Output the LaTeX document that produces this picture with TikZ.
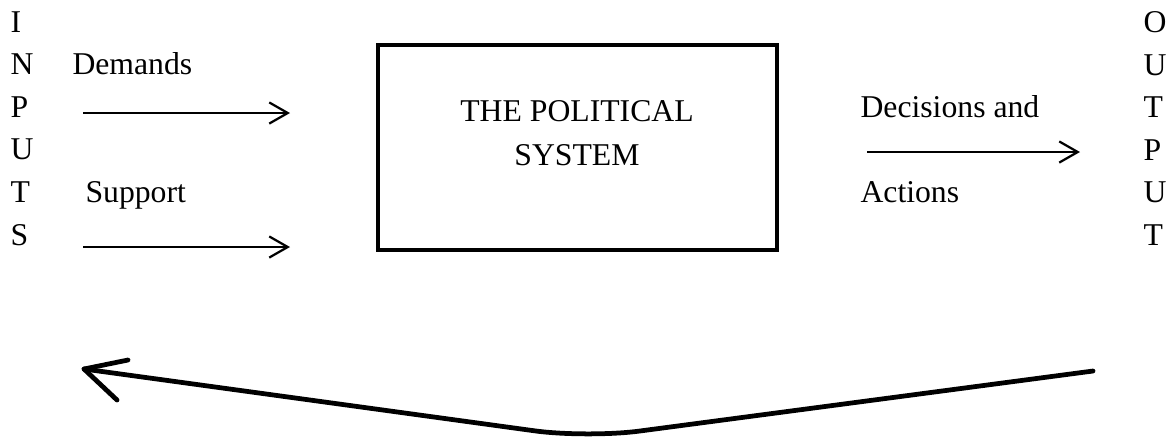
\documentclass[tikz,border=0pt]{standalone}
\usepackage{fontspec}
\setmainfont{Liberation Serif}
\usepackage{tikz}
\usetikzlibrary{arrows.meta, positioning}

\begin{document}
\begin{tikzpicture}[x=0.3785pt, y=-0.3785pt,
    every node/.style={inner sep=0pt, font=\fontsize{12}{14}\selectfont},
    lbl/.style={anchor=base west},
    flow/.style={line width=0.85pt, -{Straight Barb[length=7pt,width=8pt]}},
    feedback/.style={line width=1.8pt, line cap=round, line join=round}]
  \useasboundingbox (0,0) rectangle (1171,440);
  \foreach \ch [count=\i from 0] in {I,N,P,U,T,S}
    \node[lbl] (in\i) at (10, 32+42.6*\i) {\ch};
  \foreach \ch [count=\i from 0] in {O,U,T,P,U,T}
    \node[lbl] (out\i) at (1143, 32.5+42.6*\i) {\ch};
  \node[lbl] (demands) at (72,74) {Demands};
  \node[lbl] (support) at (85,202) {Support};
  \node[draw, line width=1.75pt, minimum width=151pt, minimum height=77.6pt] (system) at (577.5,147.5) {};
  \node[anchor=base] (sysA) at (577,121) {THE POLITICAL};
  \node[anchor=base] (sysB) at (577,165) {SYSTEM};
  \node[lbl] (decisions) at (860,117) {Decisions and};
  \node[lbl] (actions) at (860,202) {Actions};
  \coordinate (dS) at (83,113);   \coordinate (dE) at (290,113);
  \coordinate (sS) at (83,247);   \coordinate (sE) at (290,247);
  \coordinate (oS) at (867,152);  \coordinate (oE) at (1080,152);
  \draw[flow] (dS) -- (dE);
  \draw[flow] (sS) -- (sE);
  \draw[flow] (oS) -- (oE);
  % feedback loop
  \coordinate (fbR) at (1093,371);
  \coordinate (fbM) at (587,438);
  \coordinate (fbL) at (84,369);
  \coordinate (barbU) at (128,360);
  \coordinate (barbD) at (117,400);
  \draw[feedback, rounded corners=20pt] (fbR) -- (fbM) -- (fbL);
  \draw[feedback] (barbU) -- (fbL) -- (barbD);
\end{tikzpicture}
\end{document}
